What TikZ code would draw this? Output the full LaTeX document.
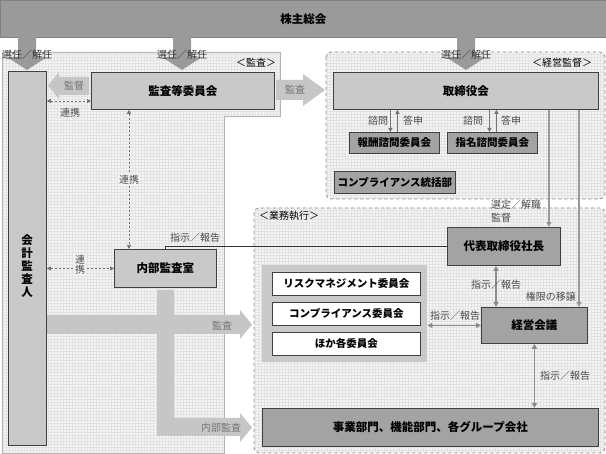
\documentclass[tikz,border=0pt]{standalone}
\usepackage{fontspec}
\setmainfont{Noto Sans CJK JP}
\usetikzlibrary{arrows.meta,calc}
\definecolor{topc}{HTML}{9A9A9A}
\definecolor{boxlt}{HTML}{C9C9C9}
\definecolor{boxmd}{HTML}{A3A3A3}
\definecolor{arrlt}{HTML}{C6C6C6}
\definecolor{bgc}{HTML}{F4F4F4}
\definecolor{gridc}{HTML}{E3E3E3}
\definecolor{lblc}{HTML}{4A4A4A}
\begin{document}
\begin{tikzpicture}[x=1pt,y=-1pt,
  box/.style={draw=black!75, line width=0.8pt, inner sep=0pt, anchor=north west, font=\bfseries\fontsize{11.5}{13}\selectfont},
  lt/.style={box, fill=boxlt},
  md/.style={box, fill=boxmd},
  sm/.style={font=\bfseries\fontsize{10.5}{12}\selectfont},
  wt/.style={box, fill=white, sm},
  lbl/.style={font=\fontsize{10}{11}\selectfont, text=lblc, inner sep=1pt},
  bglbl/.style={lbl, fill=bgc},
  tip/.style={Triangle[length=4pt,width=4pt]},
  arr/.style={line width=0.8pt, draw=black!55, -{Triangle[length=4pt,width=4pt]}},
  sarr/.style={line width=1.2pt, draw=black!40, -{Triangle[length=5pt,width=5pt,fill=black!60]}},
  darr/.style={line width=0.7pt, draw=black!55, dash pattern=on 2.5pt off 1.5pt, {Triangle[length=4pt,width=4pt]}-{Triangle[length=4pt,width=4pt]}},
  barr/.style={line width=1.2pt, draw=black!45, {Triangle[length=5pt,width=5pt,fill=black!60]}-{Triangle[length=5pt,width=5pt,fill=black!60]}},
  ]
\useasboundingbox (0,0) rectangle (606,454);
\fill[white] (0,0) rectangle (606,454);

% ---- regions ----
\def\auditpath{(2,52) -- (280,52) -- (280,116) -- (224,116) -- (224,453) -- (2,453) -- cycle}
\fill[bgc] \auditpath;
\begin{scope}
  \clip \auditpath;
  \draw[gridc, line width=0.3pt, step=3pt] (0,0) grid (606,454);
\end{scope}
\draw[black!30, line width=0.8pt] \auditpath;

\fill[bgc, rounded corners=5pt] (326,52) rectangle (605,199);
\begin{scope}
  \clip[rounded corners=5pt] (326,52) rectangle (605,199);
  \draw[gridc, line width=0.3pt, step=3pt] (0,0) grid (606,454);
\end{scope}
\draw[black!45, line width=0.8pt, dashed, rounded corners=5pt] (326,52) rectangle (605,199);

\fill[bgc, rounded corners=5pt] (254,208) rectangle (605,453);
\begin{scope}
  \clip[rounded corners=5pt] (254,208) rectangle (605,453);
  \draw[gridc, line width=0.3pt, step=3pt] (0,0) grid (606,454);
\end{scope}
\draw[black!45, line width=0.8pt, dashed, rounded corners=5pt] (254,208) rectangle (605,453);

\node[lbl, text=black] (lkansa) at (256,63) {＜監査＞};
\node[lbl, text=black] (lkeiei) at (562,63) {＜経営監督＞};
\node[lbl, text=black] (lgyomu) at (289,216) {＜業務執行＞};

% ---- top bar ----
\node[box, fill=topc, draw=black!50, minimum width=605, minimum height=37] (kabu) at (0.5,0.5) {株主総会};

% ---- election arrows ----
\foreach \c in {27,182,466}{
  \fill[topc] (\c-9,37) -- (\c+9,37) -- (\c+9,57) -- (\c+20,57) -- (\c,70) -- (\c-20,57) -- (\c-9,57) -- cycle;
  \node[lbl, text=black!80] at (\c,55) {選任／解任};
}

% ---- boxes ----
\node[lt, minimum width=38, minimum height=374] (kaikei) at (8,71) {};
\node[font=\bfseries\fontsize{11.5}{13}\selectfont, align=center, inner sep=0pt] (kaikeit) at (27,266) {会\\計\\監\\査\\人};
\node[lt, minimum width=183, minimum height=37] (kansa) at (91,72) {監査等委員会};
\node[lt, minimum width=265, minimum height=37] (tori) at (333,72) {取締役会};
\node[md, sm, minimum width=90, minimum height=21] (hoshu) at (349,132) {報酬諮問委員会};
\node[md, sm, minimum width=90, minimum height=21] (shimei) at (447,132) {指名諮問委員会};
\node[md, sm, minimum width=121, minimum height=22] (comp) at (334,171) {コンプライアンス統括部};
\node[md, minimum width=113, minimum height=38] (daihyo) at (447,227) {代表取締役社長};
\node[lt, minimum width=102, minimum height=38] (naibu) at (114,249) {内部監査室};
\node[fill=boxlt, inner sep=0pt, anchor=north west, minimum width=165, minimum height=97] (grp) at (262,265) {};
\node[wt, minimum width=148, minimum height=23] (risk) at (272,272) {リスクマネジメント委員会};
\node[wt, minimum width=148, minimum height=23] (compc) at (272,302) {コンプライアンス委員会};
\node[wt, minimum width=148, minimum height=23] (hoka) at (272,332) {ほか各委員会};
\node[md, minimum width=106, minimum height=36] (keiei) at (481,307) {経営会議};
\node[md, minimum width=336, minimum height=38] (jigyo) at (262,408) {事業部門、機能部門、各グループ会社};

% ---- block arrows ----
% 監督 (left)
\fill[arrlt] (89,77) -- (59,77) -- (59,72) -- (48,85.5) -- (59,99) -- (59,95) -- (89,95) -- cycle;
\node[lbl, text=black!55] (lkantoku) at (74,86) {監督};
% 監査 (right, to 取締役会)
\fill[arrlt] (276,80) -- (303,80) -- (303,74) -- (325,90) -- (303,106) -- (303,100) -- (276,100) -- cycle;
\node[lbl, text=black!55] (lkansa2) at (295,90) {監査};
% 監査 / 内部監査 cross
\fill[arrlt] (47,315) -- (240,315) -- (240,310) -- (252,324.5) -- (240,339) -- (240,334) -- (47,334) -- cycle;
\fill[arrlt] (157,290) -- (174,290) -- (174,418) -- (240,418) -- (240,413) -- (252,427.5) -- (240,442) -- (240,436) -- (157,436) -- cycle;
\node[lbl, text=black!55] (lka3) at (222,326) {監査};
\node[lbl, text=black!55] (lka4) at (221,428) {内部監査};

% ---- connectors ----
\coordinate (y101) at (0,101);
\draw[darr] (kaikei.east |- y101) -- (kansa.west |- y101);
\node[lbl] (lrenkei1) at (70,113) {連携};

\coordinate (x129) at (129,0);
\draw[darr] (kansa.south -| x129) -- (naibu.north -| x129);
\node[bglbl] (lrenkei2) at (129,180) {連携};

\draw[darr] (kaikei.east |- naibu.west) -- (naibu.west);
\node[bglbl, align=center, font=\fontsize{10}{10}\selectfont] (lrenkei3) at (80,265) {連\\携};

\draw[arr] ([xshift=-4pt]hoshu.north |- tori.south) -- ([xshift=-4pt]hoshu.north);
\draw[arr] ([xshift=3pt]hoshu.north) -- ([xshift=3pt]hoshu.north |- tori.south);
\draw[arr] ([xshift=-3pt]shimei.north |- tori.south) -- ([xshift=-3pt]shimei.north);
\draw[arr] ([xshift=4pt]shimei.north) -- ([xshift=4pt]shimei.north |- tori.south);
\node[lbl] (ls1) at (378,121) {諮問};
\node[lbl] (lt1) at (413,121) {答申};
\node[lbl] (ls2) at (473,121) {諮問};
\node[lbl] (lt2) at (511,121) {答申};

\coordinate (x549) at (549,0);
\coordinate (x579) at (579,0);
\draw[sarr] (tori.south -| x549) -- (daihyo.north -| x549);
\draw[sarr] (tori.south -| x579) -- (keiei.north -| x579);
\node[lbl, anchor=west] (lsentei) at (490,205) {選定／解職};
\node[lbl, anchor=west] (lkantoku2) at (490,218) {監督};
\node[lbl, anchor=east] (lkengen) at (577,297) {権限の移譲};

\draw[black!80, line width=0.7pt] (naibu.north) |- (daihyo.west);
\node[lbl] (lshiji1) at (195,238) {指示／報告};

\coordinate (x496) at (496,0);
\draw[barr] (daihyo.south -| x496) -- (keiei.north -| x496);
\node[lbl] (lshiji2) at (496,285) {指示／報告};

\draw[barr] (grp.east |- keiei.west) -- (keiei.west);
\node[lbl] (lshiji3) at (455,316) {指示／報告};

\draw[barr] (keiei.south) -- (keiei.south |- jigyo.north);
\node[lbl] (lshiji4) at (565,376) {指示／報告};
\end{tikzpicture}
\end{document}
